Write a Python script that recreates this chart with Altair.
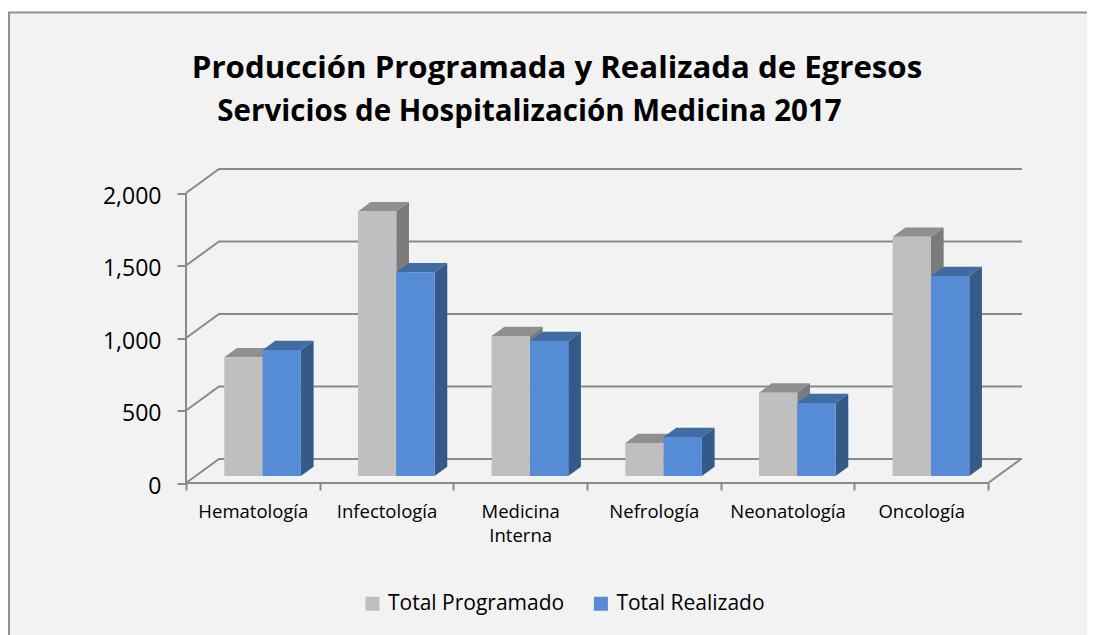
import altair as alt
import pandas as pd

CATEGORIES = ["Hematología", "Infectología", "Medicina Interna", "Nefrología", "Neonatología", "Oncología"]
PROGRAMADO = [819, 1825, 965, 228, 575, 1650]
REALIZADO = [869, 1405, 931, 269, 503, 1379]
SERIES = ["Total Programado", "Total Realizado"]
Y_TICKS = [0, 500, 1000, 1500, 2000]
TITLE = "Producción Programada y Realizada de Egresos"
SUBTITLE = "Servicios de Hospitalización Medicina 2017"

# Oblique-projection geometry, expressed in scale units
STEP_PX = 133.67
PX_PER_UNIT = 0.145
PW, PH = 836, 313.5
XMAX = PW / STEP_PX
YMAX = PH / PX_PER_UNIT
WALL_DX = 33 / STEP_PX
WALL_DY = 24 / PX_PER_UNIT
BAR_W = 38.3 / STEP_PX
BAR_DX = 12.7 / STEP_PX
BAR_DY = 9.3 / PX_PER_UNIT
BAR_START = 38.3 / STEP_PX
BASE = 7 / PX_PER_UNIT
N = len(CATEGORIES)

xs = alt.Scale(domain=[0, XMAX], nice=False, zero=False)
ys = alt.Scale(domain=[0, YMAX], nice=False, zero=False)
FONT = "Open Sans"
LINE = "#8A8A8A"

front, side, top = [], [], []
for s, vals in enumerate([PROGRAMADO, REALIZADO]):
    for i, v in enumerate(vals):
        x0 = i + BAR_START + s * BAR_W
        x1 = x0 + BAR_W
        t = v + BASE
        front.append({"x": x0, "x2": x1, "y": t, "y2": BASE, "series": SERIES[s], "s": s})
        bid = f"{s}-{i}"
        side += [
            {"id": bid, "s": s, "x": x1, "y": t, "y2": BASE},
            {"id": bid, "s": s, "x": x1 + BAR_DX, "y": t + BAR_DY, "y2": BASE + BAR_DY},
        ]
        top += [
            {"id": bid, "s": s, "x": x0, "y": t, "y2": t},
            {"id": bid, "s": s, "x": x0 + BAR_DX, "y": t + BAR_DY, "y2": t},
            {"id": bid, "s": s, "x": x1, "y": t + BAR_DY, "y2": t},
            {"id": bid, "s": s, "x": x1 + BAR_DX, "y": t + BAR_DY, "y2": t + BAR_DY},
        ]
front, side, top = pd.DataFrame(front), pd.DataFrame(side), pd.DataFrame(top)

lines = []
for v in Y_TICKS:
    lines += [
        {"id": f"g{v}", "x": 0, "y": v},
        {"id": f"g{v}", "x": WALL_DX, "y": v + WALL_DY},
        {"id": f"g{v}", "x": XMAX, "y": v + WALL_DY},
    ]
lines += [
    {"id": "axisY", "x": 0, "y": 0},
    {"id": "axisY", "x": 0, "y": Y_TICKS[-1]},
    {"id": "floor", "x": 0, "y": 0},
    {"id": "floor", "x": N, "y": 0},
    {"id": "floor", "x": N + WALL_DX, "y": WALL_DY},
]
lines = pd.DataFrame(lines)

frame = alt.Chart(pd.DataFrame({"a": [0]})).mark_rect(
    fill="#F2F2F2", stroke="#8F8F8F", strokeWidth=2
).encode(x=alt.value(-177), x2=alt.value(1000), y=alt.value(-157), y2=alt.value(600))

subtitle = alt.Chart(pd.DataFrame({"t": [SUBTITLE]})).mark_text(
    font=FONT, fontSize=29.5, fontWeight="bold", color="black", align="center", baseline="middle"
).encode(x=alt.value(343.5), y=alt.value(-57.5), text="t:N")

grid = alt.Chart(lines).mark_line(color=LINE, strokeWidth=2).encode(
    x=alt.X("x:Q", scale=xs, title=None, axis=alt.Axis(
        values=list(range(N + 1)), labels=False, domain=False, grid=False, orient="bottom", zindex=1,
        tickSize=7, tickWidth=2, tickColor=LINE, title=None)),
    y=alt.Y("y:Q", scale=ys, title=None, axis=alt.Axis(
        values=Y_TICKS, format=",.0f", domain=False, grid=False, orient="left", tickSize=9, tickWidth=2, zindex=1,
        tickColor=LINE, labelFont=FONT, labelFontSize=23, labelColor="black", labelPadding=16,
        labelOffset=3, title=None)),
    detail="id:N",
)


def faces(df, s, color):
    return alt.Chart(df[df.s == s]).mark_area(color=color, line=False, interpolate="linear").encode(
        x=alt.X("x:Q", scale=xs, axis=None),
        y=alt.Y("y:Q", scale=ys, axis=None),
        y2="y2:Q",
        detail="id:N",
    )


label_vals = [i + 0.5 for i in range(N)]
label_expr = (
    "datum.value < 1 ? 'Hematología' : datum.value < 2 ? 'Infectología' : "
    "datum.value < 3 ? ['Medicina', 'Interna'] : datum.value < 4 ? 'Nefrología' : "
    "datum.value < 5 ? 'Neonatología' : 'Oncología'"
)


def front_layer(s, with_axis):
    axis = alt.Axis(
        values=label_vals, labelExpr=label_expr, ticks=False, domain=False, grid=False,
        orient="bottom", zindex=1,
        labelFont=FONT, labelFontSize=18.5, labelColor="black", labelPadding=28,
        labelLineHeight=24, labelBaseline="middle", title=None,
    ) if with_axis else None
    return alt.Chart(front[front.s == s]).mark_rect().encode(
        x=alt.X("x:Q", scale=xs, axis=axis),
        x2="x2:Q",
        y=alt.Y("y:Q", scale=ys, axis=None),
        y2="y2:Q",
        color=alt.Color("series:N", scale=alt.Scale(domain=SERIES, range=["#BFBFBF", "#558CD5"]),
                        legend=alt.Legend(
                            orient="none", legendX=176, legendY=423.5, direction="horizontal",
                            columns=2, columnPadding=25.4, title=None, symbolType="square",
                            symbolSize=196, symbolStrokeWidth=0, symbolOpacity=1, labelLimit=300,
                            labelFont=FONT, labelFontSize=21, labelColor="black", labelOffset=5)),
    )


chart = alt.layer(
    frame, subtitle, grid,
    faces(side, 0, "#7B7B7B"), faces(top, 0, "#8F8F8F"), front_layer(0, True),
    faces(side, 1, "#355A8A"), faces(top, 1, "#3F6CA3"), front_layer(1, False),
).resolve_axis(x="independent", y="independent").properties(
    width=PW, height=PH,
    background="white",
    padding={"left": 178, "top": 161.5, "right": 65, "bottom": 152},
    autosize=alt.AutoSizeParams(type="none"),
    title=alt.TitleParams(
        TITLE, font=FONT, fontSize=31.2, fontWeight="bold", color="black",
        anchor="middle", frame="group", dx=-47, offset=0, dy=73,
    ),
).configure_view(stroke=None)

chart.save("out.html", embed_options={"renderer": "svg", "actions": False})
